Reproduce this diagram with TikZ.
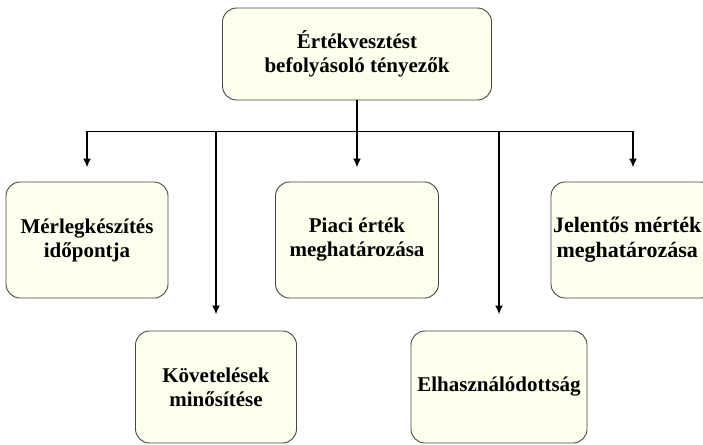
\documentclass[tikz,border=0pt]{standalone}
\usepackage{fontspec}
\setmainfont{Liberation Serif}
\usetikzlibrary{positioning, calc, arrows.meta}
\definecolor{boxfill}{RGB}{255,255,238}
\definecolor{boxline}{RGB}{70,70,70}

\begin{document}
\begin{tikzpicture}[
    x=1pt, y=-1pt,
    factor/.style={rectangle, rounded corners=14pt, draw=boxline, line width=0.9pt, fill=boxfill,
                   align=center, inner sep=2pt, font=\fontsize{21}{24}\selectfont\bfseries},
    wire/.style={line width=1.8pt},
    upper/.style={wire, -{Latex[length=9pt,width=8pt]}, shorten >=14pt},
    lower/.style={wire, -{Latex[length=9pt,width=8pt]}, shorten >=16pt}
]
\useasboundingbox (0,0) rectangle (703,444);
\clip (0,0) rectangle (703,444);

% felso doboz
\node[factor, minimum width=269pt, minimum height=92pt] (main) at (357,54) {Értékvesztést\\befolyásoló tényezők};

% felso sor
\node[factor, minimum width=162pt, minimum height=116pt] (merleg) at (87,240) {Mérlegkészítés\\időpontja};
\node[factor, minimum width=163pt, minimum height=116pt] (piaci) at (357,240) {Piaci érték\\meghatározása};
\node[factor, minimum width=164pt, minimum height=116pt, font=\fontsize{22}{25}\selectfont\bfseries] (jelentos) at (633,240)
    {\makebox[160pt][l]{\begin{tabular}{@{}c@{}}Jelentős mérték\\meghatározása\end{tabular}}};

% also sor
\node[factor, minimum width=161pt, minimum height=112pt] (kovet) at (216,387) {Követelések\\minősítése};
\node[factor, minimum width=176pt, minimum height=112pt] (elhasz) at (499,387) {Elhasználódottság};

% gyujtovonal
\coordinate (bus) at ($(main.south)+(0,31)$);
\draw[wire] (main.south) -- (bus);

% nyilak
\draw[upper] (bus) -| (merleg.north);
\draw[upper] (bus) -- (piaci.north);
\draw[upper] (bus) -| (jelentos.north);
\draw[lower] (bus) -| (kovet.north);
\draw[lower] (bus) -| (elhasz.north);

\end{tikzpicture}
\end{document}
